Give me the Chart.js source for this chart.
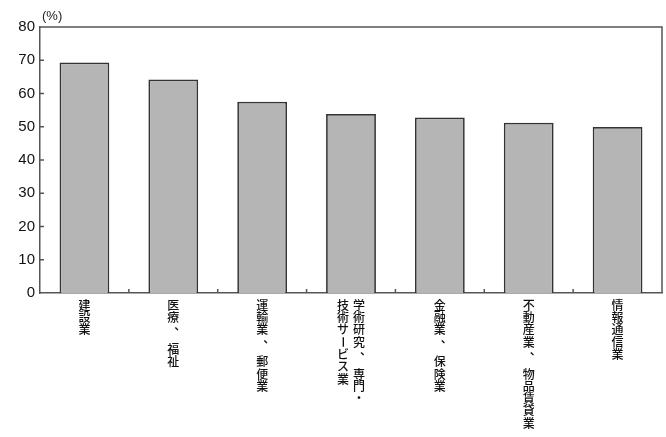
<!DOCTYPE html>
<html>
<head>
<meta charset="utf-8">
<script src="https://cdn.jsdelivr.net/npm/chart.js@4"></script>
<style>
  body { margin: 0; background: #fff; }
  #c { display: block; }
</style>
</head>
<body>
<canvas id="c" width="666" height="437"></canvas>
<script>
// industries, columns split with \n (right column first, vertical text)
const categories = ['建設業', '医療、福祉', '運輸業、郵便業', '学術研究、専門・\n技術サービス業', '金融業、保険業', '不動産業、物品賃貸業', '情報通信業'];
const values = [69.3, 64.2, 57.5, 53.8, 52.8, 51.2, 49.9];
const yTicks = [0, 10, 20, 30, 40, 50, 60, 70, 80];
const unitLabel = '(%)';

const axisColor = '#555';

// frame, inner tick marks, unit label and vertical category text
const decor = {
  id: 'decor',
  afterDraw(chart) {
    const ctx = chart.ctx;
    const a = chart.chartArea;
    const x = chart.scales.x, y = chart.scales.y;
    ctx.save();
    ctx.strokeStyle = axisColor;
    ctx.lineWidth = 1.5;
    ctx.beginPath();
    ctx.moveTo(a.left, a.top); ctx.lineTo(a.right, a.top); ctx.lineTo(a.right, a.bottom);
    // y ticks pointing inward
    yTicks.forEach(v => {
      if (v === 0 || v === 80) return;
      const py = y.getPixelForValue(v);
      ctx.moveTo(a.left, py); ctx.lineTo(a.left + 4, py);
    });
    // x ticks between categories pointing up
    for (let i = 0; i < categories.length - 1; i++) {
      const px = (x.getPixelForTick(i) + x.getPixelForTick(i + 1)) / 2;
      ctx.moveTo(px, a.bottom); ctx.lineTo(px, a.bottom - 4);
    }
    ctx.stroke();

    ctx.fillStyle = '#222';
    ctx.font = '13px "Liberation Sans", Arial, sans-serif';
    ctx.textBaseline = 'middle';
    ctx.textAlign = 'left';
    ctx.fillText(unitLabel, a.left + 2, 16);

    // vertical category labels
    const slot = 12.3;
    ctx.font = '500 12px "Noto Sans CJK JP", sans-serif';
    ctx.fillStyle = '#111';
    ctx.textAlign = 'center';
    categories.forEach((lab, i) => {
      const cols = lab.split('\n');
      const cx = x.getPixelForTick(i);
      cols.forEach((col, k) => {
        const colX = cols.length === 1 ? cx : cx + 8 - 16 * k;
        let py = a.bottom + 6 + slot / 2;
        for (const ch of col) {
          if (ch === '、') {
            ctx.fillText(ch, colX + 7, py - 4);
            py += slot * 1.6;
            continue;
          }
          if (ch === 'ー') {
            ctx.save();
            ctx.translate(colX, py);
            ctx.rotate(Math.PI / 2);
            ctx.fillText(ch, 0, 0);
            ctx.restore();
          } else {
            ctx.fillText(ch, colX, py);
          }
          py += slot;
        }
      });
    });
    ctx.restore();
  }
};

new Chart(document.getElementById('c'), {
  type: 'bar',
  data: {
    labels: categories,
    datasets: [{
      data: values,
      backgroundColor: '#b5b5b5',
      borderColor: '#333',
      borderWidth: 1.7,
      borderSkipped: 'bottom',
      barPercentage: 0.56,
      categoryPercentage: 1
    }]
  },
  options: {
    responsive: false,
    animation: false,
    devicePixelRatio: 1,
    layout: { padding: { left: 0, right: 4, top: 27, bottom: 144 } },
    plugins: { legend: { display: false }, tooltip: { enabled: false } },
    scales: {
      x: {
        grid: { display: false, drawTicks: false },
        border: { display: true, color: axisColor, width: 1.5 },
        ticks: { display: false },
        afterFit(s) { s.height = 0; }
      },
      y: {
        min: 0,
        max: 80,
        afterBuildTicks(s) { s.ticks = yTicks.map(v => ({ value: v })); },
        grid: { display: false, drawTicks: false },
        border: { display: true, color: axisColor, width: 1.5 },
        ticks: {
          padding: 5,
          color: '#111',
          font: { family: '"Liberation Sans", Arial, sans-serif', size: 15 }
        },
        afterFit(s) { s.width = 40; }
      }
    }
  },
  plugins: [decor]
});
</script>
</body>
</html>
